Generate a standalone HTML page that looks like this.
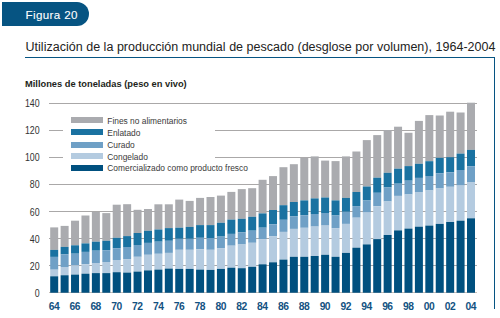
<!DOCTYPE html>
<html><head><meta charset="utf-8">
<style>
html,body{margin:0;padding:0;background:#fff;}
body{width:500px;height:318px;position:relative;overflow:hidden;font-family:"Liberation Sans",sans-serif;}
.badge{position:absolute;left:2.3px;top:2.3px;width:86.9px;height:23.5px;background:#065482;border-radius:0 12px 12px 0;}
.badge span{position:absolute;left:23.2px;top:4.5px;color:#fff;font-size:11.6px;letter-spacing:0.38px;-webkit-text-stroke:0.1px #fff;line-height:16px;white-space:nowrap;}
.title{position:absolute;left:25.5px;top:39.5px;font-size:12.5px;letter-spacing:0.02px;line-height:14px;color:#222;white-space:nowrap;}
.tline{position:absolute;left:25px;top:56.7px;width:470px;height:1.6px;background:#065482;}
.rline{position:absolute;left:493.8px;top:56.7px;width:1.3px;height:252px;background:#065482;}
.ytitle{position:absolute;left:25px;top:78px;font-size:9.3px;font-weight:bold;line-height:12px;color:#231f20;white-space:nowrap;}
.yl{position:absolute;left:0;width:39.6px;text-align:right;font-size:10px;line-height:13px;color:#333;transform:scaleX(0.88);transform-origin:right center;}
.xl{position:absolute;top:299.6px;width:30px;text-align:center;font-size:10.3px;font-weight:bold;letter-spacing:-0.5px;text-indent:-0.5px;line-height:13px;color:#135282;}
.legend{position:absolute;left:63px;top:112px;width:152px;height:64px;background:#fff;}
.li{position:absolute;left:0;height:12px;}
.sw{position:absolute;left:8px;top:0;width:32px;height:6px;}
.lt{position:absolute;left:44.3px;top:-2.75px;font-size:8.4px;line-height:12px;color:#3a3a3a;white-space:nowrap;}
svg{position:absolute;left:0;top:0;}
</style></head><body>
<div class="badge"><span>Figura 20</span></div>
<div class="title">Utilización de la producción mundial de pescado (desglose por volumen), 1964-2004</div>
<div class="tline"></div>
<div class="rline"></div>
<div class="ytitle">Millones de toneladas (peso en vivo)</div>
<svg width="500" height="318" viewBox="0 0 500 318" shape-rendering="crispEdges">
<line x1="49" y1="103.4" x2="476.5" y2="103.4" stroke="#aaa8a8" stroke-width="1"/><line x1="49" y1="130.4" x2="476.5" y2="130.4" stroke="#aaa8a8" stroke-width="1"/><line x1="49" y1="157.5" x2="476.5" y2="157.5" stroke="#aaa8a8" stroke-width="1"/><line x1="49" y1="184.5" x2="476.5" y2="184.5" stroke="#aaa8a8" stroke-width="1"/><line x1="49" y1="211.5" x2="476.5" y2="211.5" stroke="#aaa8a8" stroke-width="1"/><line x1="49" y1="238.6" x2="476.5" y2="238.6" stroke="#aaa8a8" stroke-width="1"/><line x1="49" y1="265.6" x2="476.5" y2="265.6" stroke="#aaa8a8" stroke-width="1"/>
<line x1="49" y1="292.8" x2="476.5" y2="292.8" stroke="#c8bfb8" stroke-width="1"/>
</svg>
<div class="legend">
 <div class="li" style="top:5.3px"><div class="sw" style="background:#aaabaf"></div><div class="lt">Fines no alimentarios</div></div>
 <div class="li" style="top:17.3px"><div class="sw" style="background:#1a72a1"></div><div class="lt">Enlatado</div></div>
 <div class="li" style="top:30px"><div class="sw" style="background:#6fa0c6"></div><div class="lt">Curado</div></div>
 <div class="li" style="top:41.3px"><div class="sw" style="background:#b4cbe0"></div><div class="lt">Congelado</div></div>
 <div class="li" style="top:52.7px"><div class="sw" style="background:#00507f"></div><div class="lt">Comercializado como producto fresco</div></div>
</div>
<svg width="500" height="318" viewBox="0 0 500 318">
<rect x="50.2" y="227.4" width="8" height="22.5" fill="#aaabaf"/><rect x="50.2" y="249.9" width="8" height="7" fill="#1a72a1"/><rect x="50.2" y="256.9" width="8" height="12.8" fill="#6fa0c6"/><rect x="50.2" y="269.7" width="8" height="6.6" fill="#b4cbe0"/><rect x="50.2" y="276.3" width="8" height="16.45" fill="#00507f"/><rect x="60.62" y="225.9" width="8" height="21" fill="#aaabaf"/><rect x="60.62" y="246.9" width="8" height="7.5" fill="#1a72a1"/><rect x="60.62" y="254.4" width="8" height="12.6" fill="#6fa0c6"/><rect x="60.62" y="267" width="8" height="8.25" fill="#b4cbe0"/><rect x="60.62" y="275.25" width="8" height="17.5" fill="#00507f"/><rect x="71.04" y="220.7" width="8" height="24.6" fill="#aaabaf"/><rect x="71.04" y="245.3" width="8" height="8.4" fill="#1a72a1"/><rect x="71.04" y="253.7" width="8" height="11.6" fill="#6fa0c6"/><rect x="71.04" y="265.3" width="8" height="9.3" fill="#b4cbe0"/><rect x="71.04" y="274.6" width="8" height="18.15" fill="#00507f"/><rect x="81.46" y="215.5" width="8" height="27.9" fill="#aaabaf"/><rect x="81.46" y="243.4" width="8" height="8.5" fill="#1a72a1"/><rect x="81.46" y="251.9" width="8" height="12.3" fill="#6fa0c6"/><rect x="81.46" y="264.2" width="8" height="9.5" fill="#b4cbe0"/><rect x="81.46" y="273.7" width="8" height="19.05" fill="#00507f"/><rect x="91.88" y="211.9" width="8" height="29.8" fill="#aaabaf"/><rect x="91.88" y="241.7" width="8" height="9" fill="#1a72a1"/><rect x="91.88" y="250.7" width="8" height="12.3" fill="#6fa0c6"/><rect x="91.88" y="263" width="8" height="10.1" fill="#b4cbe0"/><rect x="91.88" y="273.1" width="8" height="19.65" fill="#00507f"/><rect x="102.3" y="213.1" width="8" height="27.7" fill="#aaabaf"/><rect x="102.3" y="240.8" width="8" height="9.4" fill="#1a72a1"/><rect x="102.3" y="250.2" width="8" height="11.8" fill="#6fa0c6"/><rect x="102.3" y="262" width="8" height="11.1" fill="#b4cbe0"/><rect x="102.3" y="273.1" width="8" height="19.65" fill="#00507f"/><rect x="112.72" y="204.7" width="8" height="33.1" fill="#aaabaf"/><rect x="112.72" y="237.8" width="8" height="10.4" fill="#1a72a1"/><rect x="112.72" y="248.2" width="8" height="11.8" fill="#6fa0c6"/><rect x="112.72" y="260" width="8" height="12.2" fill="#b4cbe0"/><rect x="112.72" y="272.2" width="8" height="20.55" fill="#00507f"/><rect x="123.14" y="204.2" width="8" height="31.9" fill="#aaabaf"/><rect x="123.14" y="236.1" width="8" height="10.9" fill="#1a72a1"/><rect x="123.14" y="247" width="8" height="12.1" fill="#6fa0c6"/><rect x="123.14" y="259.1" width="8" height="13.5" fill="#b4cbe0"/><rect x="123.14" y="272.6" width="8" height="20.15" fill="#00507f"/><rect x="133.56" y="209.8" width="8" height="23.2" fill="#aaabaf"/><rect x="133.56" y="233" width="8" height="12" fill="#1a72a1"/><rect x="133.56" y="245" width="8" height="11.8" fill="#6fa0c6"/><rect x="133.56" y="256.8" width="8" height="14.8" fill="#b4cbe0"/><rect x="133.56" y="271.6" width="8" height="21.15" fill="#00507f"/><rect x="143.98" y="209" width="8" height="21.8" fill="#aaabaf"/><rect x="143.98" y="230.8" width="8" height="12.1" fill="#1a72a1"/><rect x="143.98" y="242.9" width="8" height="11.9" fill="#6fa0c6"/><rect x="143.98" y="254.8" width="8" height="15.6" fill="#b4cbe0"/><rect x="143.98" y="270.4" width="8" height="22.35" fill="#00507f"/><rect x="154.4" y="204.3" width="8" height="25.2" fill="#aaabaf"/><rect x="154.4" y="229.5" width="8" height="12.2" fill="#1a72a1"/><rect x="154.4" y="241.7" width="8" height="12.1" fill="#6fa0c6"/><rect x="154.4" y="253.8" width="8" height="15.8" fill="#b4cbe0"/><rect x="154.4" y="269.6" width="8" height="23.15" fill="#00507f"/><rect x="164.82" y="204.3" width="8" height="23.8" fill="#aaabaf"/><rect x="164.82" y="228.1" width="8" height="12.7" fill="#1a72a1"/><rect x="164.82" y="240.8" width="8" height="12.1" fill="#6fa0c6"/><rect x="164.82" y="252.9" width="8" height="15.7" fill="#b4cbe0"/><rect x="164.82" y="268.6" width="8" height="24.15" fill="#00507f"/><rect x="175.24" y="199.6" width="8" height="28.1" fill="#aaabaf"/><rect x="175.24" y="227.7" width="8" height="11.1" fill="#1a72a1"/><rect x="175.24" y="238.8" width="8" height="11" fill="#6fa0c6"/><rect x="175.24" y="249.8" width="8" height="19.1" fill="#b4cbe0"/><rect x="175.24" y="268.9" width="8" height="23.85" fill="#00507f"/><rect x="185.66" y="200.9" width="8" height="26" fill="#aaabaf"/><rect x="185.66" y="226.9" width="8" height="11.9" fill="#1a72a1"/><rect x="185.66" y="238.8" width="8" height="11" fill="#6fa0c6"/><rect x="185.66" y="249.8" width="8" height="19.1" fill="#b4cbe0"/><rect x="185.66" y="268.9" width="8" height="23.85" fill="#00507f"/><rect x="196.08" y="197.9" width="8" height="27.2" fill="#aaabaf"/><rect x="196.08" y="225.1" width="8" height="12.7" fill="#1a72a1"/><rect x="196.08" y="237.8" width="8" height="11.4" fill="#6fa0c6"/><rect x="196.08" y="249.2" width="8" height="20.4" fill="#b4cbe0"/><rect x="196.08" y="269.6" width="8" height="23.15" fill="#00507f"/><rect x="206.5" y="197" width="8" height="28.1" fill="#aaabaf"/><rect x="206.5" y="225.1" width="8" height="12.9" fill="#1a72a1"/><rect x="206.5" y="238" width="8" height="11.8" fill="#6fa0c6"/><rect x="206.5" y="249.8" width="8" height="20.1" fill="#b4cbe0"/><rect x="206.5" y="269.9" width="8" height="22.85" fill="#00507f"/><rect x="216.92" y="195.6" width="8" height="27.2" fill="#aaabaf"/><rect x="216.92" y="222.8" width="8" height="13.8" fill="#1a72a1"/><rect x="216.92" y="236.6" width="8" height="11.5" fill="#6fa0c6"/><rect x="216.92" y="248.1" width="8" height="20.8" fill="#b4cbe0"/><rect x="216.92" y="268.9" width="8" height="23.85" fill="#00507f"/><rect x="227.34" y="191.9" width="8" height="27.7" fill="#aaabaf"/><rect x="227.34" y="219.6" width="8" height="14.3" fill="#1a72a1"/><rect x="227.34" y="233.9" width="8" height="11.8" fill="#6fa0c6"/><rect x="227.34" y="245.7" width="8" height="22" fill="#b4cbe0"/><rect x="227.34" y="267.7" width="8" height="25.05" fill="#00507f"/><rect x="237.76" y="189.1" width="8" height="29.7" fill="#aaabaf"/><rect x="237.76" y="218.8" width="8" height="13.6" fill="#1a72a1"/><rect x="237.76" y="232.4" width="8" height="12.1" fill="#6fa0c6"/><rect x="237.76" y="244.5" width="8" height="23.7" fill="#b4cbe0"/><rect x="237.76" y="268.2" width="8" height="24.55" fill="#00507f"/><rect x="248.18" y="188.2" width="8" height="28.6" fill="#aaabaf"/><rect x="248.18" y="216.8" width="8" height="13.9" fill="#1a72a1"/><rect x="248.18" y="230.7" width="8" height="12.1" fill="#6fa0c6"/><rect x="248.18" y="242.8" width="8" height="24" fill="#b4cbe0"/><rect x="248.18" y="266.8" width="8" height="25.95" fill="#00507f"/><rect x="258.6" y="179.8" width="8" height="33.6" fill="#aaabaf"/><rect x="258.6" y="213.4" width="8" height="14.3" fill="#1a72a1"/><rect x="258.6" y="227.7" width="8" height="11.4" fill="#6fa0c6"/><rect x="258.6" y="239.1" width="8" height="25.2" fill="#b4cbe0"/><rect x="258.6" y="264.3" width="8" height="28.45" fill="#00507f"/><rect x="269.02" y="176.1" width="8" height="33.9" fill="#aaabaf"/><rect x="269.02" y="210" width="8" height="14.3" fill="#1a72a1"/><rect x="269.02" y="224.3" width="8" height="12.1" fill="#6fa0c6"/><rect x="269.02" y="236.4" width="8" height="25.9" fill="#b4cbe0"/><rect x="269.02" y="262.3" width="8" height="30.45" fill="#00507f"/><rect x="279.44" y="167.2" width="8" height="38" fill="#aaabaf"/><rect x="279.44" y="205.2" width="8" height="14.6" fill="#1a72a1"/><rect x="279.44" y="219.8" width="8" height="12.1" fill="#6fa0c6"/><rect x="279.44" y="231.9" width="8" height="27.7" fill="#b4cbe0"/><rect x="279.44" y="259.6" width="8" height="33.15" fill="#00507f"/><rect x="289.86" y="164.2" width="8" height="37.8" fill="#aaabaf"/><rect x="289.86" y="202" width="8" height="14.4" fill="#1a72a1"/><rect x="289.86" y="216.4" width="8" height="12.5" fill="#6fa0c6"/><rect x="289.86" y="228.9" width="8" height="27.9" fill="#b4cbe0"/><rect x="289.86" y="256.8" width="8" height="35.95" fill="#00507f"/><rect x="300.28" y="157.6" width="8" height="42.8" fill="#aaabaf"/><rect x="300.28" y="200.4" width="8" height="14.8" fill="#1a72a1"/><rect x="300.28" y="215.2" width="8" height="12.6" fill="#6fa0c6"/><rect x="300.28" y="227.8" width="8" height="29" fill="#b4cbe0"/><rect x="300.28" y="256.8" width="8" height="35.95" fill="#00507f"/><rect x="310.7" y="156.4" width="8" height="42" fill="#aaabaf"/><rect x="310.7" y="198.4" width="8" height="15.6" fill="#1a72a1"/><rect x="310.7" y="214" width="8" height="12.6" fill="#6fa0c6"/><rect x="310.7" y="226.6" width="8" height="29.4" fill="#b4cbe0"/><rect x="310.7" y="256" width="8" height="36.75" fill="#00507f"/><rect x="321.12" y="160.6" width="8" height="36.9" fill="#aaabaf"/><rect x="321.12" y="197.5" width="8" height="15.5" fill="#1a72a1"/><rect x="321.12" y="213" width="8" height="12.6" fill="#6fa0c6"/><rect x="321.12" y="225.6" width="8" height="29.2" fill="#b4cbe0"/><rect x="321.12" y="254.8" width="8" height="37.95" fill="#00507f"/><rect x="331.54" y="161.1" width="8" height="39.3" fill="#aaabaf"/><rect x="331.54" y="200.4" width="8" height="15.1" fill="#1a72a1"/><rect x="331.54" y="215.5" width="8" height="12.6" fill="#6fa0c6"/><rect x="331.54" y="228.1" width="8" height="28.7" fill="#b4cbe0"/><rect x="331.54" y="256.8" width="8" height="35.95" fill="#00507f"/><rect x="341.96" y="156.4" width="8" height="41.5" fill="#aaabaf"/><rect x="341.96" y="197.9" width="8" height="13.9" fill="#1a72a1"/><rect x="341.96" y="211.8" width="8" height="12.1" fill="#6fa0c6"/><rect x="341.96" y="223.9" width="8" height="29" fill="#b4cbe0"/><rect x="341.96" y="252.9" width="8" height="39.85" fill="#00507f"/><rect x="352.38" y="151.5" width="8" height="40.5" fill="#aaabaf"/><rect x="352.38" y="192" width="8" height="14.1" fill="#1a72a1"/><rect x="352.38" y="206.1" width="8" height="11.6" fill="#6fa0c6"/><rect x="352.38" y="217.7" width="8" height="30" fill="#b4cbe0"/><rect x="352.38" y="247.7" width="8" height="45.05" fill="#00507f"/><rect x="362.8" y="140.1" width="8" height="46.4" fill="#aaabaf"/><rect x="362.8" y="186.5" width="8" height="14" fill="#1a72a1"/><rect x="362.8" y="200.5" width="8" height="12.1" fill="#6fa0c6"/><rect x="362.8" y="212.6" width="8" height="31.8" fill="#b4cbe0"/><rect x="362.8" y="244.4" width="8" height="48.35" fill="#00507f"/><rect x="373.22" y="135.1" width="8" height="42.6" fill="#aaabaf"/><rect x="373.22" y="177.7" width="8" height="15.1" fill="#1a72a1"/><rect x="373.22" y="192.8" width="8" height="13.5" fill="#6fa0c6"/><rect x="373.22" y="206.3" width="8" height="32.8" fill="#b4cbe0"/><rect x="373.22" y="239.1" width="8" height="53.65" fill="#00507f"/><rect x="383.64" y="130" width="8" height="42.8" fill="#aaabaf"/><rect x="383.64" y="172.8" width="8" height="14.7" fill="#1a72a1"/><rect x="383.64" y="187.5" width="8" height="14" fill="#6fa0c6"/><rect x="383.64" y="201.5" width="8" height="33.5" fill="#b4cbe0"/><rect x="383.64" y="235" width="8" height="57.75" fill="#00507f"/><rect x="394.06" y="126.7" width="8" height="42" fill="#aaabaf"/><rect x="394.06" y="168.7" width="8" height="15" fill="#1a72a1"/><rect x="394.06" y="183.7" width="8" height="12.2" fill="#6fa0c6"/><rect x="394.06" y="195.9" width="8" height="34.5" fill="#b4cbe0"/><rect x="394.06" y="230.4" width="8" height="62.35" fill="#00507f"/><rect x="404.48" y="132.8" width="8" height="33.3" fill="#aaabaf"/><rect x="404.48" y="166.1" width="8" height="14.6" fill="#1a72a1"/><rect x="404.48" y="180.7" width="8" height="13.8" fill="#6fa0c6"/><rect x="404.48" y="194.5" width="8" height="34.1" fill="#b4cbe0"/><rect x="404.48" y="228.6" width="8" height="64.15" fill="#00507f"/><rect x="414.9" y="120.9" width="8" height="42.9" fill="#aaabaf"/><rect x="414.9" y="163.8" width="8" height="14.1" fill="#1a72a1"/><rect x="414.9" y="177.9" width="8" height="14.1" fill="#6fa0c6"/><rect x="414.9" y="192" width="8" height="34.7" fill="#b4cbe0"/><rect x="414.9" y="226.7" width="8" height="66.05" fill="#00507f"/><rect x="425.32" y="115.1" width="8" height="46.1" fill="#aaabaf"/><rect x="425.32" y="161.2" width="8" height="14.8" fill="#1a72a1"/><rect x="425.32" y="176" width="8" height="14.5" fill="#6fa0c6"/><rect x="425.32" y="190.5" width="8" height="35.1" fill="#b4cbe0"/><rect x="425.32" y="225.6" width="8" height="67.15" fill="#00507f"/><rect x="435.74" y="115.5" width="8" height="42.3" fill="#aaabaf"/><rect x="435.74" y="157.8" width="8" height="15.4" fill="#1a72a1"/><rect x="435.74" y="173.2" width="8" height="15.3" fill="#6fa0c6"/><rect x="435.74" y="188.5" width="8" height="35.4" fill="#b4cbe0"/><rect x="435.74" y="223.9" width="8" height="68.85" fill="#00507f"/><rect x="446.16" y="111.7" width="8" height="45.5" fill="#aaabaf"/><rect x="446.16" y="157.2" width="8" height="15.1" fill="#1a72a1"/><rect x="446.16" y="172.3" width="8" height="14.5" fill="#6fa0c6"/><rect x="446.16" y="186.8" width="8" height="35.2" fill="#b4cbe0"/><rect x="446.16" y="222" width="8" height="70.75" fill="#00507f"/><rect x="456.58" y="112.5" width="8" height="41.1" fill="#aaabaf"/><rect x="456.58" y="153.6" width="8" height="16.4" fill="#1a72a1"/><rect x="456.58" y="170" width="8" height="15.6" fill="#6fa0c6"/><rect x="456.58" y="185.6" width="8" height="35.1" fill="#b4cbe0"/><rect x="456.58" y="220.7" width="8" height="72.05" fill="#00507f"/><rect x="467" y="102.7" width="8" height="47.2" fill="#aaabaf"/><rect x="467" y="149.9" width="8" height="16.3" fill="#1a72a1"/><rect x="467" y="166.2" width="8" height="15.8" fill="#6fa0c6"/><rect x="467" y="182" width="8" height="36.3" fill="#b4cbe0"/><rect x="467" y="218.3" width="8" height="74.45" fill="#00507f"/>
</svg>
<div class="yl" style="top:97.4px">140</div><div class="yl" style="top:124.43px">120</div><div class="yl" style="top:151.46px">100</div><div class="yl" style="top:178.49px">80</div><div class="yl" style="top:205.52px">60</div><div class="yl" style="top:232.55px">40</div><div class="yl" style="top:259.58px">20</div><div class="yl" style="top:286.61px">0</div>
<div class="xl" style="left:39.2px">64</div><div class="xl" style="left:60.04px">66</div><div class="xl" style="left:80.88px">68</div><div class="xl" style="left:101.72px">70</div><div class="xl" style="left:122.56px">72</div><div class="xl" style="left:143.4px">74</div><div class="xl" style="left:164.24px">76</div><div class="xl" style="left:185.08px">78</div><div class="xl" style="left:205.92px">80</div><div class="xl" style="left:226.76px">82</div><div class="xl" style="left:247.6px">84</div><div class="xl" style="left:268.44px">86</div><div class="xl" style="left:289.28px">88</div><div class="xl" style="left:310.12px">90</div><div class="xl" style="left:330.96px">92</div><div class="xl" style="left:351.8px">94</div><div class="xl" style="left:372.64px">96</div><div class="xl" style="left:393.48px">98</div><div class="xl" style="left:414.32px">00</div><div class="xl" style="left:435.16px">02</div><div class="xl" style="left:456px">04</div>
</body></html>
